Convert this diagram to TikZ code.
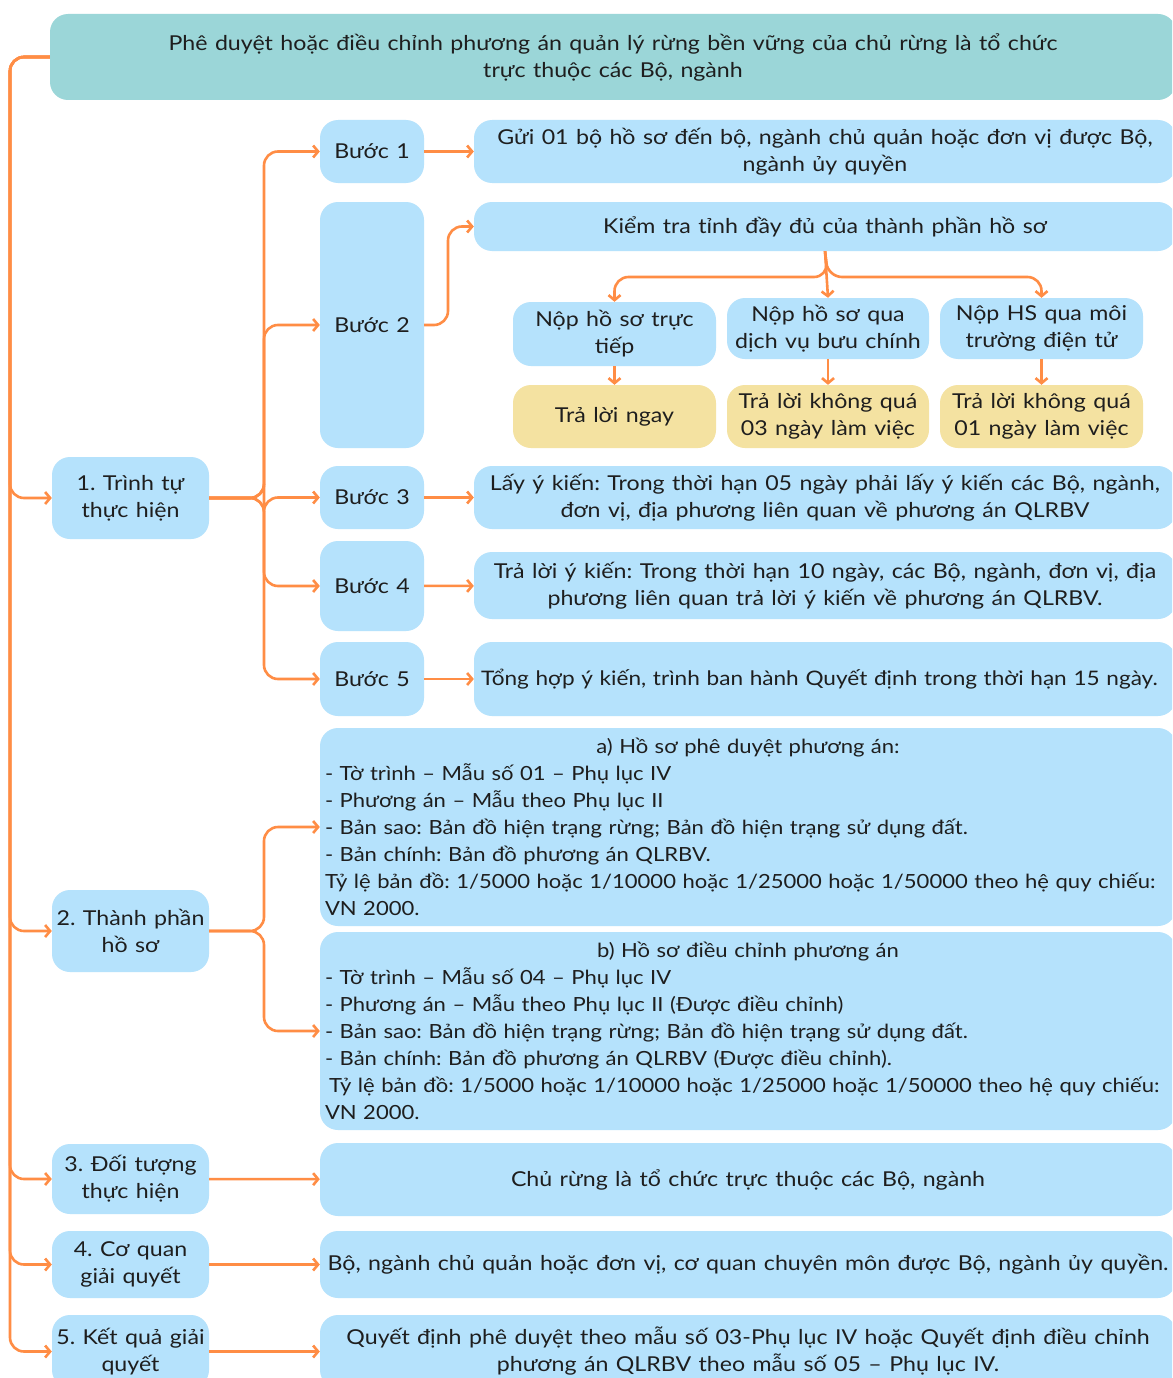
\documentclass[tikz,border=0pt]{standalone}
\usepackage{fontspec}
\setmainfont{Lato}[FakeStretch=1.13, WordSpace=1.25]
\usetikzlibrary{arrows.meta}
\definecolor{teal}{HTML}{9BD6D8}
\definecolor{skyfill}{HTML}{B5E2FC}
\definecolor{sandfill}{HTML}{F4E2A1}
\definecolor{linkorange}{HTML}{FF8D45}
\definecolor{inktext}{HTML}{1E1E1E}
\tikzset{
  box/.style={rounded corners=18pt, fill=skyfill, text=inktext, align=center,
    inner sep=0pt, font=\fontsize{20.5}{27}\selectfont\frenchspacing},
  headbox/.style={box, fill=teal},
  answerbox/.style={box, fill=sandfill},
  listbox/.style={box, align=left, text width=846pt, font=\fontsize{19.5}{27}\selectfont\frenchspacing},
  conn/.style={draw=linkorange, line width=2.6pt, rounded corners=14pt,
    -{Straight Barb[length=5pt,width=12pt]}},
}
\begin{document}
\begin{tikzpicture}[x=1pt, y=-1pt]
\clip (0,0) rectangle (1172,1378);
\fill[white] (0,0) rectangle (1172,1378);

% title
\node[headbox, minimum width=1126pt, minimum height=86pt] (top) at (613,57)
  {Phê duyệt hoặc điều chỉnh phương án quản lý rừng bền vững của chủ rừng là tổ chức\\trực thuộc các Bộ, ngành};

% left column
\node[box, minimum width=157pt, minimum height=82pt] (n1) at (130.5,498) {1. Trình tự\\thực hiện};
\node[box, minimum width=157pt, minimum height=82pt] (n2) at (130.5,931) {2. Thành phần\\hồ sơ};
\node[box, minimum width=157pt, minimum height=70pt] (n3) at (130.5,1179) {3. Đối tượng\\thực hiện};
\node[box, minimum width=157pt, minimum height=67pt] (n4) at (130.5,1264.5) {4. Cơ quan\\giải quyết};
\node[box, minimum width=157pt, minimum height=73pt] (n5) at (130.5,1351.5) {5. Kết quả giải\\quyết};

% steps
\node[box, minimum width=104pt, minimum height=63pt] (b1) at (372,151.5) {Bước 1};
\node[box, minimum width=104pt, minimum height=246pt] (b2) at (372,325) {Bước 2};
\node[box, minimum width=104pt, minimum height=63pt] (b3) at (372,497.5) {Bước 3};
\node[box, minimum width=104pt, minimum height=90pt] (b4) at (372,586) {Bước 4};
\node[box, minimum width=104pt, minimum height=74pt] (b5) at (372,679) {Bước 5};

% step details
\node[box, minimum width=702pt, minimum height=63pt] (r1) at (825,151.5)
  {Gửi 01 bộ hồ sơ đến bộ, ngành chủ quản hoặc đơn vị được Bộ,\\ngành ủy quyền};
\node[box, minimum width=702pt, minimum height=49pt] (kt) at (825,226.5)
  {Kiểm tra tỉnh đầy đủ của thành phần hồ sơ};
\node[box, minimum width=702pt, minimum height=63pt] (r3) at (825,497.5)
  {Lấy ý kiến: Trong thời hạn 05 ngày phải lấy ý kiến các Bộ, ngành,\\đơn vị, địa phương liên quan về phương án QLRBV};
\node[box, minimum width=702pt, minimum height=67pt] (r4) at (825,585.5)
  {Trả lời ý kiến: Trong thời hạn 10 ngày, các Bộ, ngành, đơn vị, địa\\phương liên quan trả lời ý kiến về phương án QLRBV.};
\node[box, minimum width=702pt, minimum height=74pt, text width=688pt, align=left,
      font=\fontsize{20}{27}\selectfont\frenchspacing] (r5) at (825,679)
  {\mbox{Tổng hợp ý kiến, trình ban hành Quyết định trong thời hạn 15 ngày.}};

% submission channels
\node[box, minimum width=203pt, minimum height=64pt] (s1) at (614.5,334) {Nộp hồ sơ trực\\tiếp};
\node[box, minimum width=202pt, minimum height=61pt] (s2) at (828,328.5) {Nộp hồ sơ qua\\dịch vụ bưu chính};
\node[box, minimum width=203pt, minimum height=61pt] (s3) at (1041.5,328.5) {Nộp HS qua môi\\trường điện tử};
\node[answerbox, minimum width=203pt, minimum height=63pt] (a1) at (614.5,416.5) {Trả lời ngay};
\node[answerbox, minimum width=202pt, minimum height=63pt] (a2) at (828,416.5) {Trả lời không quá\\03 ngày làm việc};
\node[answerbox, minimum width=203pt, minimum height=63pt] (a3) at (1041.5,416.5) {Trả lời không quá\\01 ngày làm việc};

% dossier contents
\node[listbox, minimum width=856pt, minimum height=198pt] (da) at (748,827)
  {\makebox[\linewidth][c]{a) Hồ sơ phê duyệt phương án:}\\
   - Tờ trình – Mẫu số 01 – Phụ lục IV\\
   - Phương án – Mẫu theo Phụ lục II\\
   - Bản sao: Bản đồ hiện trạng rừng; Bản đồ hiện trạng sử dụng đất.\\
   - Bản chính: Bản đồ phương án QLRBV.\\
   Tỷ lệ bản đồ: 1/5000 hoặc 1/10000 hoặc 1/25000 hoặc 1/50000 theo hệ quy chiếu:\\
   VN 2000.};
\node[listbox, minimum width=856pt, minimum height=198pt] (db) at (748,1031)
  {\makebox[\linewidth][c]{b) Hồ sơ điều chỉnh phương án}\\
   - Tờ trình – Mẫu số 04 – Phụ lục IV\\
   - Phương án – Mẫu theo Phụ lục II (Được điều chỉnh)\\
   - Bản sao: Bản đồ hiện trạng rừng; Bản đồ hiện trạng sử dụng đất.\\
   - Bản chính: Bản đồ phương án QLRBV (Được điều chỉnh).\\
   \hspace*{4pt}Tỷ lệ bản đồ: 1/5000 hoặc 1/10000 hoặc 1/25000 hoặc 1/50000 theo hệ quy chiếu:\\
   VN 2000.};

% remaining answers
\node[box, minimum width=856pt, minimum height=73pt] (c3) at (748,1179.5)
  {Chủ rừng là tổ chức trực thuộc các Bộ, ngành};
\node[box, minimum width=856pt, minimum height=67pt] (c4) at (748,1264.5)
  {Bộ, ngành chủ quản hoặc đơn vị, cơ quan chuyên môn được Bộ, ngành ủy quyền.};
\node[box, minimum width=856pt, minimum height=73pt] (c5) at (748,1351.5)
  {Quyết định phê duyệt theo mẫu số 03-Phụ lục IV hoặc Quyết định điều chỉnh\\phương án QLRBV theo mẫu số 05 – Phụ lục IV.};

% main spine
\coordinate (sp) at (10,57);
\foreach \n in {n1,n2,n3,n4,n5}
  \draw[conn] (top.west) -- (sp) |- (\n);

% sequence branches
\coordinate (j1) at (264,498);
\foreach \b in {b1,b2,b3,b4,b5}
  \draw[conn] (n1.east) -- (j1) |- (\b);
\draw[conn] (b1) -- (r1);
\draw[conn] (b2.east) -- (448,325) |- (kt.west);
\draw[conn] (b3) -- (r3);
\draw[conn] (b4) -- (r4);
\draw[conn] (b5) -- (r5);

% check branches
\coordinate (j2) at (828,277);
\draw[conn] (kt.south) -- (j2) -| (s1.north);
\draw[conn] (kt.south) -- (s2.north);
\draw[conn] (kt.south) -- (j2) -| (s3.north);
\draw[conn] (s1) -- (a1);
\draw[conn] (s2) -- (a2);
\draw[conn] (s3) -- (a3);

% dossier branches
\coordinate (j3) at (264,931);
\draw[conn] (n2.east) -- (j3) |- (da);
\draw[conn] (n2.east) -- (j3) |- (db);

\draw[conn] (n3) -- (c3);
\draw[conn] (n4) -- (c4);
\draw[conn] (n5) -- (c5);
\end{tikzpicture}
\end{document}
